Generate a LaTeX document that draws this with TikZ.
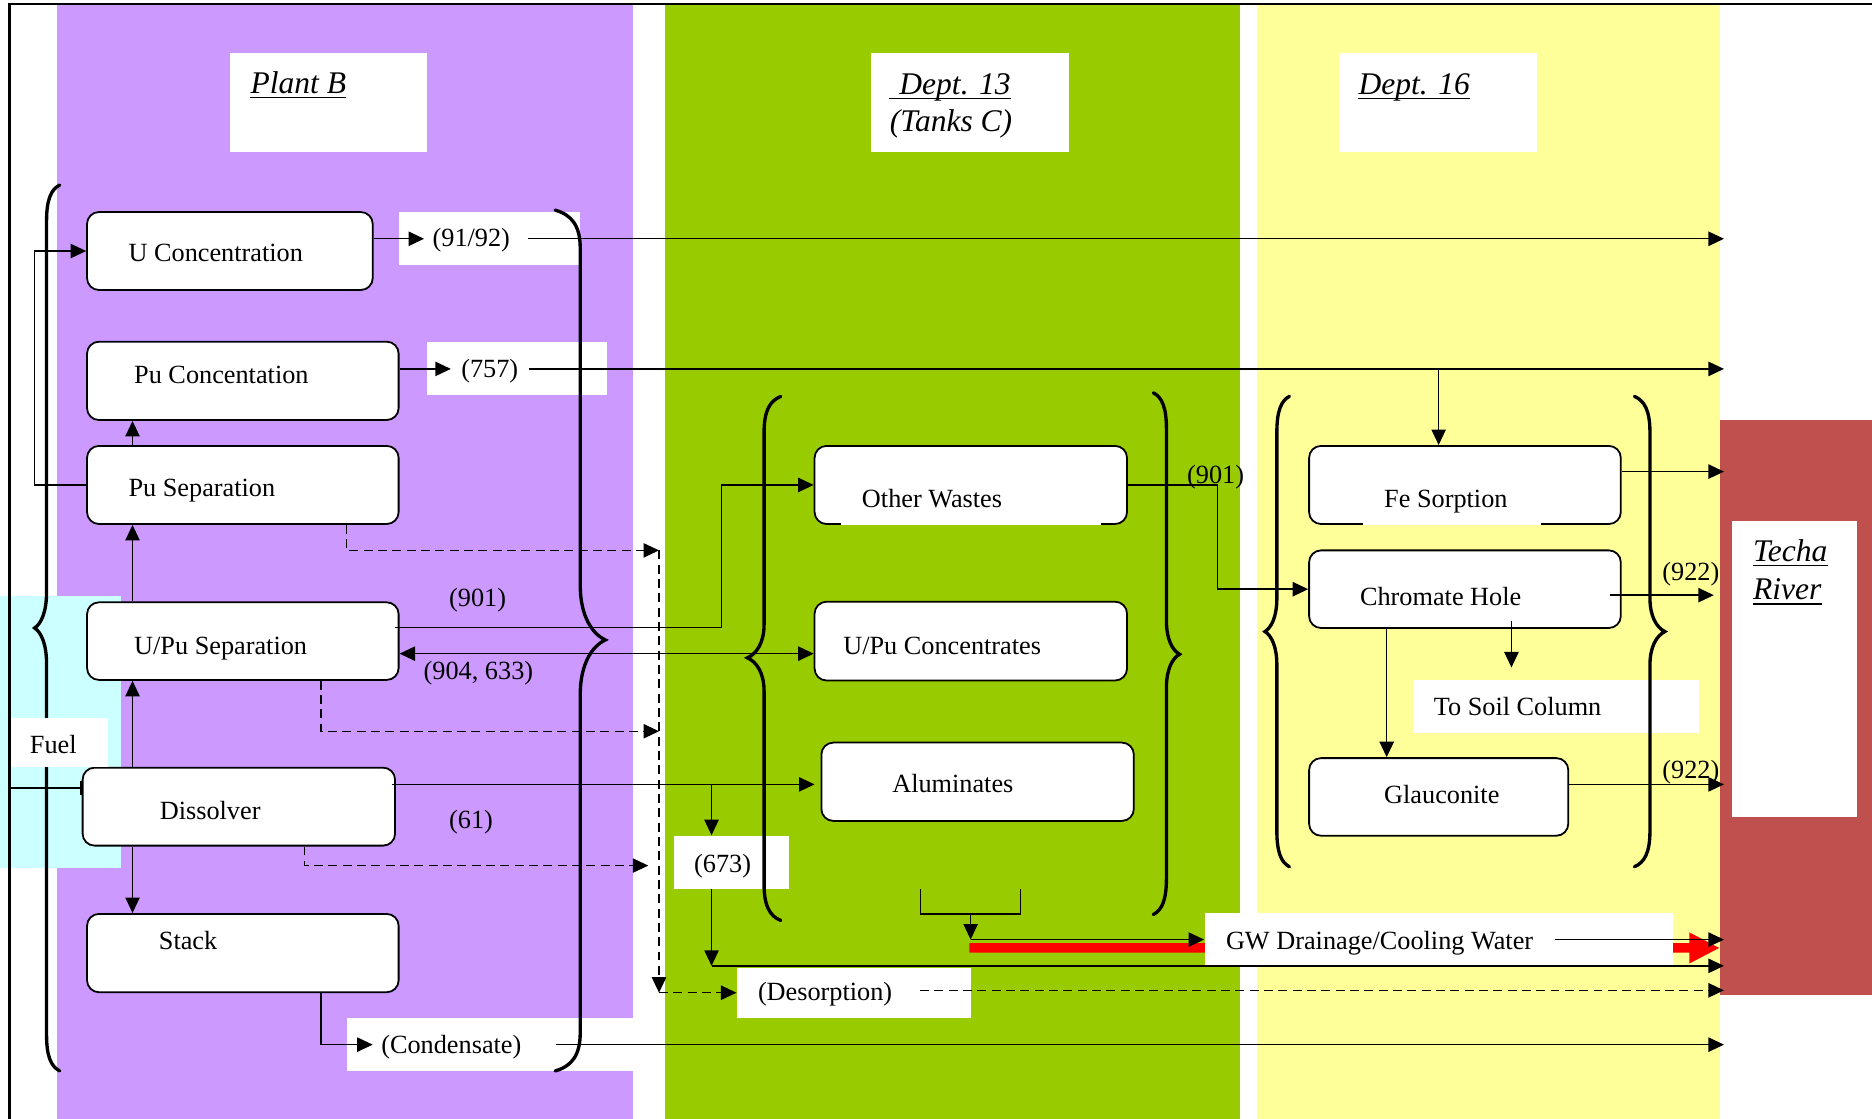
\documentclass[tikz,border=0pt]{standalone}
\usepackage{fontspec}
\setmainfont{Liberation Serif}
\usetikzlibrary{arrows.meta,fit}
\definecolor{plantbg}{HTML}{CC99FF}
\definecolor{deptAbg}{HTML}{99CC00}
\definecolor{deptBbg}{HTML}{FFFF99}
\definecolor{fuelbg}{HTML}{CCFFFF}
\definecolor{riverbg}{HTML}{C0504D}
\definecolor{hotred}{HTML}{FF0000}
% #1 end x, #2 stem x, #3 tip x, #4 top y, #5 tip y, #6 bottom y, #7 curl length, #8 tip length
\newcommand{\mybrace}[8]{%
  \draw[bracestyle] (#1,#4) .. controls ({#2+0.35*(#1-#2)},{#4+0.12*#7}) and (#2,{#4+0.4*#7}) .. (#2,{#4+#7})
    -- (#2,{#5-#8}) .. controls (#2,{#5-0.45*#8}) and ({#2+0.45*(#3-#2)},{#5-0.12*#8}) .. (#3,#5)
    .. controls ({#2+0.45*(#3-#2)},{#5+0.12*#8}) and (#2,{#5+0.45*#8}) .. (#2,{#5+#8})
    -- (#2,{#6-#7}) .. controls (#2,{#6-0.4*#7}) and ({#2+0.35*(#1-#2)},{#6-0.12*#7}) .. (#1,#6);}
\begin{document}
\begin{tikzpicture}[x=0.5pt,y=-0.5pt,
  procbox/.style={draw, fill=white, rounded corners=5pt, line width=0.75pt, inner sep=0pt},
  whitebox/.style={fill=white, inner sep=0pt},
  lbl/.style={inner sep=0pt, anchor=base west, font=\fontsize{11}{13}\selectfont},
  ttl/.style={inner sep=0pt, anchor=base west, font=\fontsize{13.2}{16}\selectfont\itshape},
  uln/.style={line width=0.55pt},
  arrtip/.style={-{Triangle[length=6.5pt,width=6pt]}},
  conn/.style={line width=0.6pt, arrtip},
  biconn/.style={line width=0.6pt, {Triangle[length=6.5pt,width=6pt]}-{Triangle[length=6.5pt,width=6pt]}},
  plainline/.style={line width=0.6pt},
  dconn/.style={line width=0.6pt, dash pattern=on 3.75pt off 2.25pt, arrtip},
  bracestyle/.style={line width=1.4pt, line cap=round},
]
\useasboundingbox (0,0) rectangle (1568,937);
\fill[white] (0,0) rectangle (1568,937);
\fill[plantbg] (48,3) rectangle (530,937);
\fill[deptAbg] (557,3) rectangle (1039,937);
\fill[deptBbg] (1053,3) rectangle (1441,937);
\fill[fuelbg] (0,499) rectangle (101,727);
\fill[riverbg] (1441,352) rectangle (1568,833);
\draw[line width=0.9pt] (8,937) -- (8,3) -- (1568,3);
\coordinate (riv) at (1444,0);

% title boxes
\node[whitebox, fit={(192.5,44.7) (358,127)}] (plantbox) {};
\node[ttl] (plantt) at (209.5,78) {Plant B};
\draw[uln] ([yshift=-1.75pt]plantt.base west) -- ([yshift=-1.75pt]plantt.base east);
\node[whitebox, fit={(729.8,44.7) (895,127)}] (deptAbox) {};
\node[ttl] (deptAt) at (745,79) {\hspace*{4pt}Dept. 13};
\draw[uln] ([yshift=-1.75pt]deptAt.base west) -- ([yshift=-1.75pt]deptAt.base east);
\node[ttl] (deptAsub) at (745,110.3) {(Tanks C)};
\node[whitebox, fit={(1121.5,44.7) (1287.3,127)}] (deptBbox) {};
\node[ttl] (deptBt) at (1137.6,79) {Dept. 16};
\draw[uln] ([yshift=-1.75pt]deptBt.base west) -- ([yshift=-1.75pt]deptBt.base east);
\node[whitebox, fit={(1451,436) (1555,684)}] (techabox) {};
\node[ttl] (techat) at (1468,470.4) {Techa};
\draw[uln] ([yshift=-1.75pt]techat.base west) -- ([yshift=-1.75pt]techat.base east);
\node[ttl] (rivert) at (1468,502.5) {River};
\draw[uln] ([yshift=-1.75pt]rivert.base west) -- ([yshift=-1.75pt]rivert.base east);

% label boxes
\node[whitebox, fit={(334,177.6) (486,222)}] (b9192) {};
\node[whitebox, fit={(357.8,286.7) (508.6,330.8)}] (b757) {};
\node[whitebox, fit={(1183.6,569.5) (1423.4,613.6)}] (bsoil) {};
\node[whitebox, fit={(564.6,700) (660.8,744.3)}] (b673) {};
\node[whitebox, fit={(617.3,810.5) (813,853)}] (bdes) {};
\node[whitebox, fit={(291,852.3) (530,896.7)}] (bcond) {};
\fill[hotred] (812,790) -- (1415,790) -- (1415,781) -- (1440,794) -- (1415,807) -- (1415,798) -- (812,798) -- cycle;
\node[whitebox, fit={(1009,765) (1401,808)}] (bgw) {};

% process boxes
\node[procbox, fit={(72.9,177.6) (312.2,242.9)}] (uconc) {};
\node[procbox, fit={(72.9,286.2) (333.9,351.8)}] (puconc) {};
\node[procbox, fit={(72.9,373.5) (333.9,438.9)}] (pusep) {};
\node[procbox, fit={(72.9,504.5) (333.9,569.5)}] (upusep) {};
\node[procbox, fit={(69.2,643) (330.9,708.3)}] (dissolver) {};
\node[procbox, fit={(72.9,765.5) (333.9,831.1)}] (stack) {};
\node[procbox, fit={(682.3,373.5) (944,438.9)}] (otherw) {};
\node[procbox, fit={(682.3,504) (944,570)}] (upuconc) {};
\node[procbox, fit={(688,622) (949.7,687.6)}] (alum) {};
\node[procbox, fit={(1096.5,373.5) (1357.6,438.9)}] (fesorp) {};
\node[procbox, fit={(1096.5,461) (1357.6,526)}] (chrom) {};
\node[procbox, fit={(1096.5,635) (1313.6,700)}] (glauc) {};
\fill[white] (704,437.3) rectangle (922,439.8);
\fill[white] (1142,437.3) rectangle (1291,439.8);

% texts
\node[lbl] (uconct) at (107.3,219) {U Concentration};
\node[lbl] (puconct) at (112,321.6) {Pu Concentation};
\node[lbl] (puseptt) at (107.3,416) {Pu Separation};
\node[lbl] (upusept) at (112,548.6) {U/Pu Separation};
\node[lbl] (dissolvert) at (133.5,686) {Dissolver};
\node[lbl] (stackt) at (132.7,795.6) {Stack};
\node[lbl] (otherwt) at (721.6,425) {Other Wastes};
\node[lbl] (upuconct) at (706,548.6) {U/Pu Concentrates};
\node[lbl] (alumt) at (747,664) {Aluminates};
\node[lbl] (fesorpt) at (1159,425) {Fe Sorption};
\node[lbl] (chromt) at (1138.8,507) {Chromate Hole};
\node[lbl] (glauct) at (1159,672.6) {Glauconite};
\node[lbl] (t9192) at (362,206.6) {(91/92)};
\node[lbl] (t757) at (386,316.3) {(757)};
\node[lbl] (t901a) at (375.8,508) {(901)};
\node[lbl] (t904) at (354.5,569.5) {(904, 633)};
\node[lbl] (t61) at (375.8,693.6) {(61)};
\node[lbl] (tcond) at (319,882) {(Condensate)};
\node[lbl] (t673) at (581,731) {(673)};
\node[lbl] (tdes) at (634.5,838) {(Desorption)};
\node[lbl] (tgw) at (1026.5,795) {GW Drainage/Cooling Water};
\node[lbl] (t901b) at (994,404.6) {(901)};
\node[lbl] (t922a) at (1392,486.6) {(922)};
\node[lbl] (t922b) at (1392,651.8) {(922)};
\node[lbl] (tsoil) at (1200.6,599) {To Soil Column};

% connectors
\draw[conn, shorten >=3.4pt] (uconc.east |- 0,200) -- (t9192.west |- 0,200);
\draw[conn, shorten <=7.5pt] (t9192.east |- 0,200) -- (riv |- 0,200);
\draw[conn, shorten >=4.2pt] (puconc.east |- 0,309) -- (t757.west |- 0,309);
\draw[conn, shorten <=4.5pt] (t757.east |- 0,309) -- (riv |- 0,309);
\coordinate (j757) at (1205,309);
\draw[conn] (j757) -- (fesorp.north -| j757);
\draw[conn] (pusep.west) -| (29,300) |- (uconc.west);
\draw[conn] (pusep.north -| 111,0) -- (puconc.south -| 111,0);
\draw[conn] (upusep.north -| 111,0) -- (pusep.south -| 111,0);
\draw[conn] (dissolver.north -| 111,0) -- (upusep.south -| 111,0);
\draw[conn] (dissolver.south -| 111,0) -- (stack.north -| 111,0);
\coordinate (fuelin) at (8,660);
\draw[plainline, -{Bar[width=5.5pt]}] (fuelin) -- (dissolver.west |- fuelin);

\coordinate (coltop) at (552,461);
\coordinate (colmid) at (552,612.5);
\coordinate (colend) at (543,725);
\coordinate (colbot) at (552,831.5);
\draw[dconn] (pusep.south -| 290,0) |- (coltop);
\draw[dconn] (upusep.south -| 269,0) |- (colmid);
\draw[dconn] (dissolver.south -| 255,0) |- (colend);
\draw[dconn] (coltop) -- (colbot);
\draw[dconn] (colbot) -- (bdes.west |- colbot);
\draw[dconn, shorten <=11.5pt] (tdes.east |- 0,829.5) -- (riv |- 0,829.5);

\draw[conn, shorten <=-2pt] (upusep.east |- 0,525.5) -| (604.5,470) |- (otherw.west);
\draw[biconn] (upusep.east |- 0,547.5) -- (upuconc.west |- 0,547.5);
\coordinate (j61) at (596,657);
\draw[conn, shorten <=-1.5pt, shorten >=2.5pt] (dissolver.east |- j61) -- (alum.west |- j61);
\draw[conn] (j61) -- (b673.north -| j61);
\coordinate (j673) at (596,809);
\draw[conn] (b673.south -| j673) -- (j673);
\draw[conn] (j673) -- (riv |- j673);

\coordinate (gwj) at (813,787);
\draw[plainline] (771,745) |- (855,765.5) -- (855,745);
\draw[conn] (813,765.5) -- (gwj);
\draw[conn] (gwj) -- (bgw.west |- gwj);
\draw[conn, shorten <=9pt] (tgw.east |- 0,787) -- (riv |- 0,787);

\draw[conn] (fesorp.east |- 0,395) -- (riv |- 0,395);
\draw[conn] (otherw.east) -| (1020,450) |- (chrom.west);
\draw[conn, shorten <=-4.8pt, shorten >=4.25pt] (chrom.east |- 0,498.5) -- (riv |- 0,498.5);
\draw[conn, shorten <=-3.5pt, shorten >=5pt] (chrom.south -| 1266,0) -- (bsoil.north -| 1266,0);
\draw[conn] (chrom.south -| 1161.5,0) -- (glauc.north -| 1161.5,0);
\draw[conn] (glauc.east |- 0,657) -- (riv |- 0,657);
\draw[conn, shorten >=3.4pt] (stack.south -| 269,0) |- (tcond.west |- 0,875);
\draw[conn, shorten <=14.5pt] (tcond.east |- 0,875) -- (riv |- 0,875);

% braces
\mybrace{50}{39}{29}{155}{526}{897}{30}{30}
\mybrace{465}{486}{507}{176}{536}{897}{32}{46}
\mybrace{654}{640}{626}{332}{551}{771}{30}{28}
\mybrace{966}{977}{988}{329}{548}{766}{30}{28}
\mybrace{1080}{1069.5}{1059.5}{332}{529}{726}{30}{28}
\mybrace{1369}{1382}{1394.5}{332}{529}{726}{30}{28}

% fuel
\node[whitebox, fit={(9,601.6) (90.4,642.5)}] (bfuel) {};
\node[lbl] (tfuel) at (24.7,631) {Fuel};
\end{tikzpicture}
\end{document}
